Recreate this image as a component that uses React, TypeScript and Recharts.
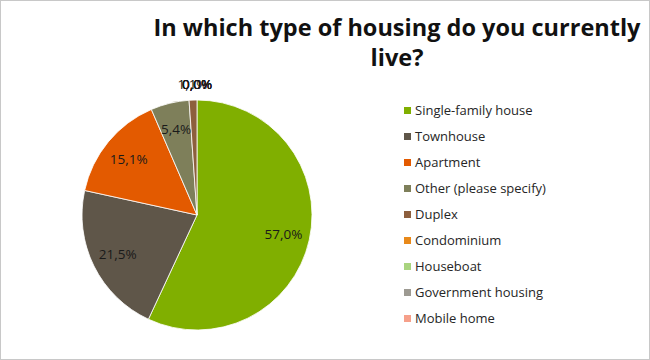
import React from "react"
import { PieChart, Pie, Cell, Legend } from "recharts"

const categories = [
  "Single-family house",
  "Townhouse",
  "Apartment",
  "Other (please specify)",
  "Duplex",
  "Condominium",
  "Houseboat",
  "Government housing",
  "Mobile home",
]

const shares = [57.0, 21.5, 15.1, 5.4, 1.1, 0.0, 0.0, 0.0, 0.0]

const COLORS = [
  "#80af00",
  "#5f5649",
  "#e35a00",
  "#7e7f5a",
  "#8d5f3d",
  "#e8891a",
  "#a9d47f",
  "#9d9a92",
  "#f6a08a",
]

const data = categories.map((name, i) => ({ name, value: shares[i] }))

const FONT = "'Open Sans', sans-serif"

const RADIAN = Math.PI / 180

// labels inside the slice, tiny ones pushed just outside the rim
const renderLabel = (props: any) => {
  const { cx, cy, midAngle, outerRadius, value } = props
  const r = value >= 5 ? outerRadius * 0.77 : outerRadius + 16
  const x = cx + r * Math.cos(-midAngle * RADIAN)
  const y = cy + r * Math.sin(-midAngle * RADIAN)
  return (
    <text
      x={x}
      y={y}
      fill="#1a1a1a"
      fontSize={13.5}
      fontFamily={FONT}
      textAnchor="middle"
      dominantBaseline="central"
    >
      {value.toFixed(1).replace(".", ",") + "%"}
    </text>
  )
}

const renderLegend = () => (
  <div style={{ fontFamily: FONT, fontSize: 13, color: "#262626" }}>
    {categories.map((c, i) => (
      <div
        key={c}
        style={{ display: "flex", alignItems: "center", height: 26 }}
      >
        <span
          style={{
            width: 7,
            height: 7,
            background: COLORS[i],
            marginRight: 4,
            display: "inline-block",
          }}
        />
        {c}
      </div>
    ))}
  </div>
)

export default function App() {
  return (
    <div
      style={{
        position: "absolute",
        left: 0,
        top: 0,
        width: 650,
        height: 360,
        boxSizing: "border-box",
        border: "1px solid #c8c8c8",
        background: "#fff",
      }}
    >
      <div
        style={{
          position: "absolute",
          left: 146,
          width: 500,
          top: 11,
          textAlign: "center",
          fontFamily: FONT,
          fontWeight: 700,
          fontSize: 23.5,
          lineHeight: "30px",
          color: "#111",
        }}
      >
        In which type of housing do you currently live?
      </div>
      <PieChart width={648} height={358}>
        <Pie
          data={data}
          dataKey="value"
          nameKey="name"
          cx={191}
          cy={209}
          outerRadius={115}
          startAngle={90}
          endAngle={-270}
          stroke="#fff"
          strokeWidth={0.8}
          label={renderLabel}
          labelLine={false}
          isAnimationActive={false}
        >
          {data.map((entry, index) => (
            <Cell key={entry.name} fill={COLORS[index]} />
          ))}
        </Pie>
        <Legend
          content={renderLegend}
          wrapperStyle={{ position: "absolute", left: 403, top: 96, width: 240 }}
        />
      </PieChart>
    </div>
  )
}
